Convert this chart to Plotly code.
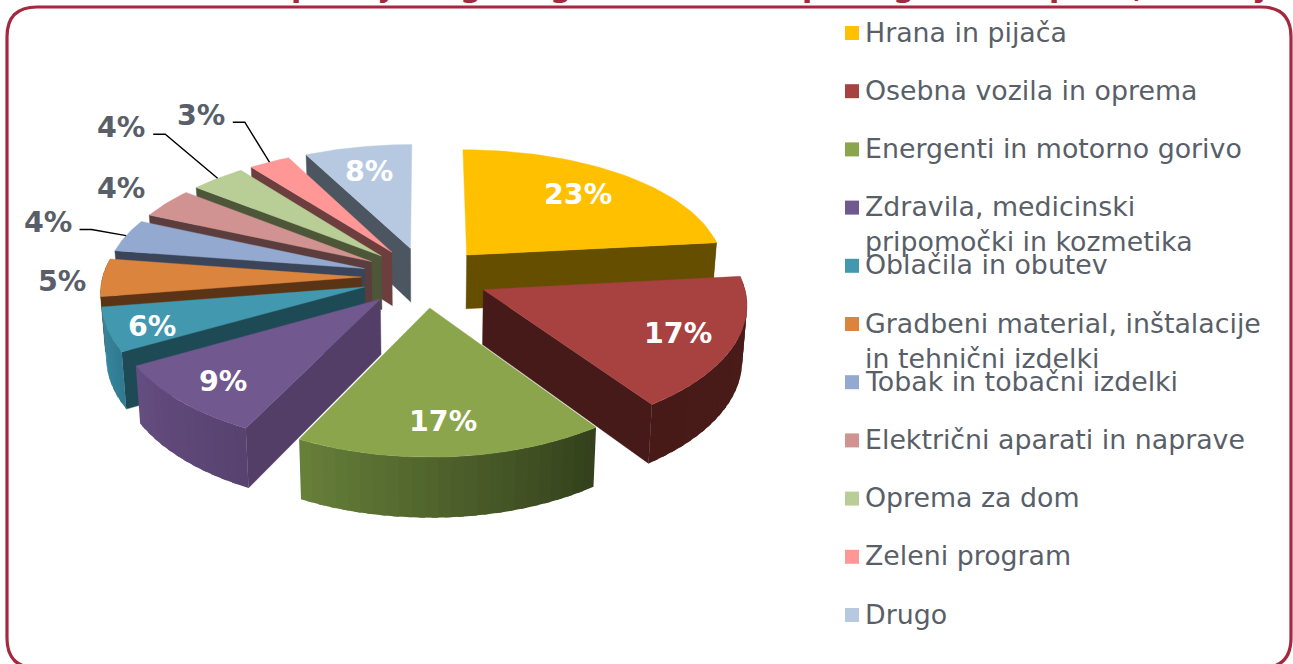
import math
import plotly.graph_objects as go

CATEGORIES = ["Hrana in pijača", "Osebna vozila in oprema", "Energenti in motorno gorivo",
              "Zdravila, medicinski<br>pripomočki in kozmetika", "Oblačila in obutev",
              "Gradbeni material, inštalacije<br>in tehnični izdelki", "Tobak in tobačni izdelki",
              "Električni aparati in naprave", "Oprema za dom", "Zeleni program", "Drugo"]
VALUES = [23.3, 17.0, 17.1, 9.49, 5.61, 4.9, 4.3, 4.0, 3.9, 2.9, 7.5]
TOP_COLORS = ["#FFC000", "#A74240", "#8AA54B", "#71588F", "#4198AF", "#DB843D",
              "#93A9CF", "#D19392", "#B9CD96", "#FF9797", "#B7C9E1"]
RADIAL_COLORS = ["#664E00", "#461A19", "#333F1B", "#533E68", "#1E4A56", "#5A3415",
                 "#3A4559", "#5C3D3D", "#4E5639", "#6D3E3E", "#4C5660"]
ARC_START = ["#664E00", "#4A1B19", "#33401B", "#57426F", "#2F7A90", "#5A3415",
             "#3A4559", "#5C3D3D", "#4E5639", "#6D3E3E", "#4C5660"]
ARC_END = ["#664E00", "#471A18", "#67803A", "#654D80", "#3A8AA2", "#5A3415",
           "#3A4559", "#5C3D3D", "#4E5639", "#6D3E3E", "#4C5660"]
LABEL_RADIUS = [.72, .79, .78, .85, .92, 1.16, 1.32, 1.2, 1.6, 1.55, .72]
LABEL_NUDGE = [(-3, -1), (-2, 1), (-3, 1), (11, -3), (23, 0), (1, 4), (-5, -3), (-7, -4), (-8, -10), (-9, -4), (-3, -2)]
LEADER_INDEX = [6, 8, 9]
TITLE_GLYPHS = ["p", "j", "g", "g", "p", "g", "p", ",", "y"]
TITLE_X = [301, 385, 470, 560, 812, 903, 1059, 1138, 1262]
DRAW_ORDER = [10, 9, 8, 7, 6, 5, 0, 4, 1, 3, 2]

W, H_PAGE = 1293, 664
CX, CY = 425, 277
A, B = 259, 123
KX, KY, KH = .1, .121, .08
EXPLODE = .245
DEPTH = 54.5
BOTTOM_SHRINK = .985
BORDER = "#A5283F"
FONT = "DejaVu Sans"
TEXT_GREY = "#595F68"


def project(x, y, lower=False):
    sx = CX + A * x / (1 + KX * y)
    sy = CY - B * y / (1 + KY * y)
    if lower:
        sx = CX + (sx - CX) * BOTTOM_SHRINK
        sy += DEPTH / (1 + KH * y)
    return sx, sy


def polar(theta, r=1.0):
    t = math.radians(theta)
    return r * math.sin(t), r * math.cos(t)


def mix(c1, c2, f):
    a = [int(c1[i:i + 2], 16) for i in (1, 3, 5)]
    b = [int(c2[i:i + 2], 16) for i in (1, 3, 5)]
    return "#%02x%02x%02x" % tuple(round(p + (q - p) * f) for p, q in zip(a, b))


fig = go.Figure()


def poly(points, color, width=0.0):
    xs = [p[0] for p in points] + [points[0][0]]
    ys = [p[1] for p in points] + [points[0][1]]
    fig.add_trace(go.Scatter(x=xs, y=ys, mode="lines", fill="toself", fillcolor=color,
                             line=dict(color=color, width=width), hoverinfo="skip", showlegend=False))


total = sum(VALUES)
starts, ends, acc = [], [], 0
for v in VALUES:
    starts.append(acc / total * 360)
    acc += v
    ends.append(acc / total * 360)

for i in DRAW_ORDER:
    t0, t1 = starts[i], ends[i]
    ex, ey = polar((t0 + t1) / 2, EXPLODE)

    def top(theta, r=1.0):
        x, y = polar(theta, r)
        return ex + x, ey + y

    apex_t = project(ex, ey)
    apex_b = project(ex, ey, True)
    for edge, visible in ((t0, math.sin(math.radians(t0)) < -.01), (t1, math.sin(math.radians(t1)) > .01)):
        if visible:
            tx, ty = top(edge)
            poly([apex_t, project(tx, ty), project(tx, ty, True), apex_b], RADIAL_COLORS[i], .4)
    n = max(3, int((t1 - t0) / 2.5))
    step = (t1 - t0) / n
    for k in range(n):
        a0 = t0 + step * k
        a1 = a0 + step
        if math.cos(math.radians((a0 + a1) / 2)) < .17:
            # each strip runs a little under the next, so no seam shows between them
            stop = min(a1 + step * .5, t1)
            mid = [project(*top(a0 + (stop - a0) * q / 3)) for q in range(4)]
            low = [project(*top(a0 + (stop - a0) * q / 3), True) for q in range(3, -1, -1)]
            poly(mid + low, mix(ARC_START[i], ARC_END[i], (k + .5) / n))
    arc = [project(*top(t0 + (t1 - t0) * k / 40)) for k in range(41)]
    poly([apex_t] + arc, TOP_COLORS[i], .4)

annotations = []
label_xy = {}
for i, v in enumerate(VALUES):
    th = (starts[i] + ends[i]) / 2
    ex, ey = polar(th, EXPLODE + LABEL_RADIUS[i])
    sx, sy = project(ex, ey)
    sx += LABEL_NUDGE[i][0]
    sy += LABEL_NUDGE[i][1]
    label_xy[i] = (sx, sy)
    inside = LABEL_RADIUS[i] < 1
    annotations.append(dict(x=sx, y=sy, xref="x", yref="y", text=f"<b>{v:.0f}%</b>", showarrow=False,
                            xanchor="center", yanchor="middle",
                            font=dict(family=FONT, size=28.5, color="white" if inside else TEXT_GREY)))

for i in LEADER_INDEX:
    sx, sy = label_xy[i]
    th = (starts[i] + ends[i]) / 2
    ex, ey = polar(th, EXPLODE)
    x, y = polar(th)
    end = project(ex + x, ey + y)
    fig.add_trace(go.Scatter(x=[sx + 32, sx + 44, end[0]], y=[sy + 7, sy + 7, end[1]], mode="lines",
                             line=dict(color="black", width=1.4), hoverinfo="skip", showlegend=False))

LEG_Y0, LEG_STEP, LEG_SIZE = 33, 58.2, 26.8
legend_y = [LEG_Y0 + LEG_STEP * k for k in range(len(CATEGORIES))]
fig.add_trace(go.Scatter(x=[852] * len(CATEGORIES), y=legend_y, mode="markers",
                         marker=dict(symbol="square", size=14, color=TOP_COLORS, line=dict(width=0)),
                         hoverinfo="skip", showlegend=False))
for name, y in zip(CATEGORIES, legend_y):
    annotations.append(dict(x=864, y=y - LEG_SIZE * .65, xref="x", yref="y", text=name, showarrow=False,
                            xanchor="left", yanchor="top", align="left", borderpad=0,
                            font=dict(family=FONT, size=LEG_SIZE, color=TEXT_GREY)))

for g, x in zip(TITLE_GLYPHS, TITLE_X):
    annotations.append(dict(x=x, y=1.0, xref="x", yref="paper", yanchor="bottom", xanchor="center",
                            yshift=-5, text=f"<b>{g}</b>", showarrow=False, borderpad=0,
                            font=dict(family=FONT, size=30, color=BORDER)))

L, T, R, Bm, rad = 7, 7, 1291, 668, 30
border = (f"M {L + rad} {T} L {R - rad} {T} Q {R} {T} {R} {T + rad} L {R} {Bm - rad} "
          f"Q {R} {Bm} {R - rad} {Bm} L {L + rad} {Bm} Q {L} {Bm} {L} {Bm - rad} L {L} {T + rad} Q {L} {T} {L + rad} {T} Z")

fig.update_layout(
    width=W, height=H_PAGE, margin=dict(l=0, r=0, t=0, b=0), paper_bgcolor="white", plot_bgcolor="white",
    xaxis=dict(range=[0, W], visible=False, fixedrange=True),
    yaxis=dict(range=[H_PAGE, 0], visible=False, fixedrange=True),
    shapes=[dict(type="path", path=border, xref="x", yref="y", line=dict(color=BORDER, width=3.2), layer="below")],
    annotations=annotations, showlegend=False, font=dict(family=FONT),
)
fig.write_html("out.html", config={"displayModeBar": False},
               post_script="document.body.style.margin='0';document.documentElement.style.overflow='hidden';")
